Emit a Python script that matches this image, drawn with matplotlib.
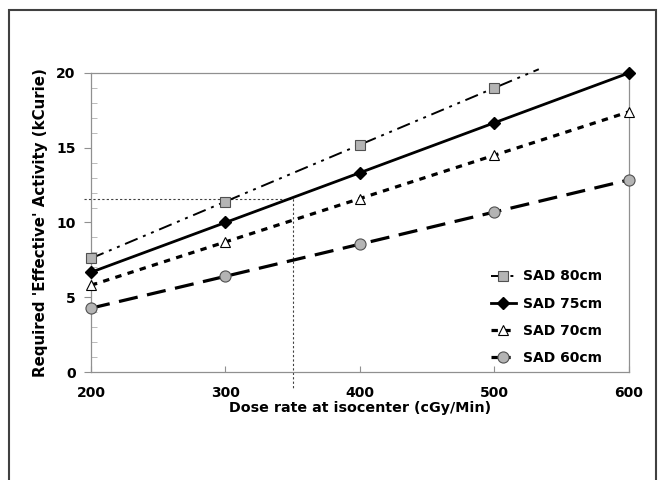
import matplotlib.pyplot as plt
from matplotlib.patches import Rectangle

# dose rate at isocenter (cGy/min)
dose_rate = [200, 300, 400, 500, 600]
# SAD 80 line runs on past 500 until it leaves the top of the plot
dose_rate_80 = [200, 300, 400, 500, 533]

sad80 = [7.6, 11.4, 15.2, 19.0, 20.25]
sad75 = [6.67, 10.0, 13.33, 16.67, 20.0]
sad70 = [5.8, 8.7, 11.6, 14.5, 17.4]
sad60 = [4.27, 6.4, 8.55, 10.7, 12.85]

# dotted guide: 350 cGy/min -> activity read on the SAD 75cm curve
guide_x = [195, 350, 350]
guide_y = [11.6, 11.6, -1.1]

labels = ['SAD 80cm', 'SAD 75cm', 'SAD 70cm', 'SAD 60cm']

plt.rcParams['font.family'] = 'DejaVu Sans'
plt.rcParams['font.weight'] = 'bold'

fig = plt.figure(figsize=(6.62, 4.8), dpi=100)
ax = fig.add_axes([0.1375, 0.225, 0.8125, 0.623])

ax.plot(guide_x, guide_y, color='#404040', lw=0.8, ls=(0, (2, 2)), clip_on=False, zorder=1)

ax.plot(dose_rate_80, sad80, color='black', lw=1.4, ls=(0, (7, 3, 1.5, 3, 1.5, 3)),
        marker='s', markevery=[0, 1, 2, 3], ms=7, mfc='#b4b4b4', mec='#505050', mew=0.8,
        clip_on=False, label=labels[0], zorder=3)
ax.plot(dose_rate, sad75, color='black', lw=2.0, ls='-', marker='D', ms=6,
        mfc='black', mec='black', clip_on=False, label=labels[1], zorder=3)
ax.plot(dose_rate, sad70, color='black', lw=2.3, ls=(0, (2, 2)), marker='^', ms=7,
        mfc='white', mec='black', mew=0.8, clip_on=False, label=labels[2], zorder=3)
ax.plot(dose_rate, sad60, color='black', lw=2.3, ls=(0, (6, 3)), marker='o', ms=8,
        mfc='#b4b4b4', mec='#505050', mew=0.8, clip_on=False, label=labels[3], zorder=3)

ax.set_xlim(200, 600)
ax.set_ylim(0, 20)
ax.set_xticks([200, 300, 400, 500, 600])
ax.set_yticks([0, 5, 10, 15, 20])
ax.set_yticks(range(0, 21), minor=True)

for s in ax.spines.values():
    s.set_color('#909090')
    s.set_linewidth(0.9)

ax.tick_params(axis='x', which='major', direction='in', length=4, color='#909090',
               labelsize=10, pad=10)
ax.tick_params(axis='y', which='major', direction='out', length=5, color='#909090',
               labelsize=10, pad=6)
ax.tick_params(axis='y', which='minor', direction='in', length=4, color='#b0b0b0')
for t in ax.get_xticklabels() + ax.get_yticklabels():
    t.set_fontweight('bold')

ax.set_xlabel('Dose rate at isocenter (cGy/Min)', fontsize=10.3, fontweight='bold', labelpad=1)
ax.set_ylabel("Required 'Effective' Activity (kCurie)", fontsize=10.8, fontweight='bold', labelpad=6)

leg = ax.legend(loc='upper left', bbox_to_anchor=(0.72, 0.385), frameon=False,
                numpoints=1, handlelength=1.8, labelspacing=0.95, fontsize=10,
                handletextpad=0.5)
for t in leg.get_texts():
    t.set_fontweight('bold')

# outer frame round the whole picture
fig.patches.append(Rectangle((9 / 662, -0.02), 647 / 662, 1.0, transform=fig.transFigure,
                             fill=False, edgecolor='#404040', lw=1.5))

fig.savefig('out.png', dpi=100)
